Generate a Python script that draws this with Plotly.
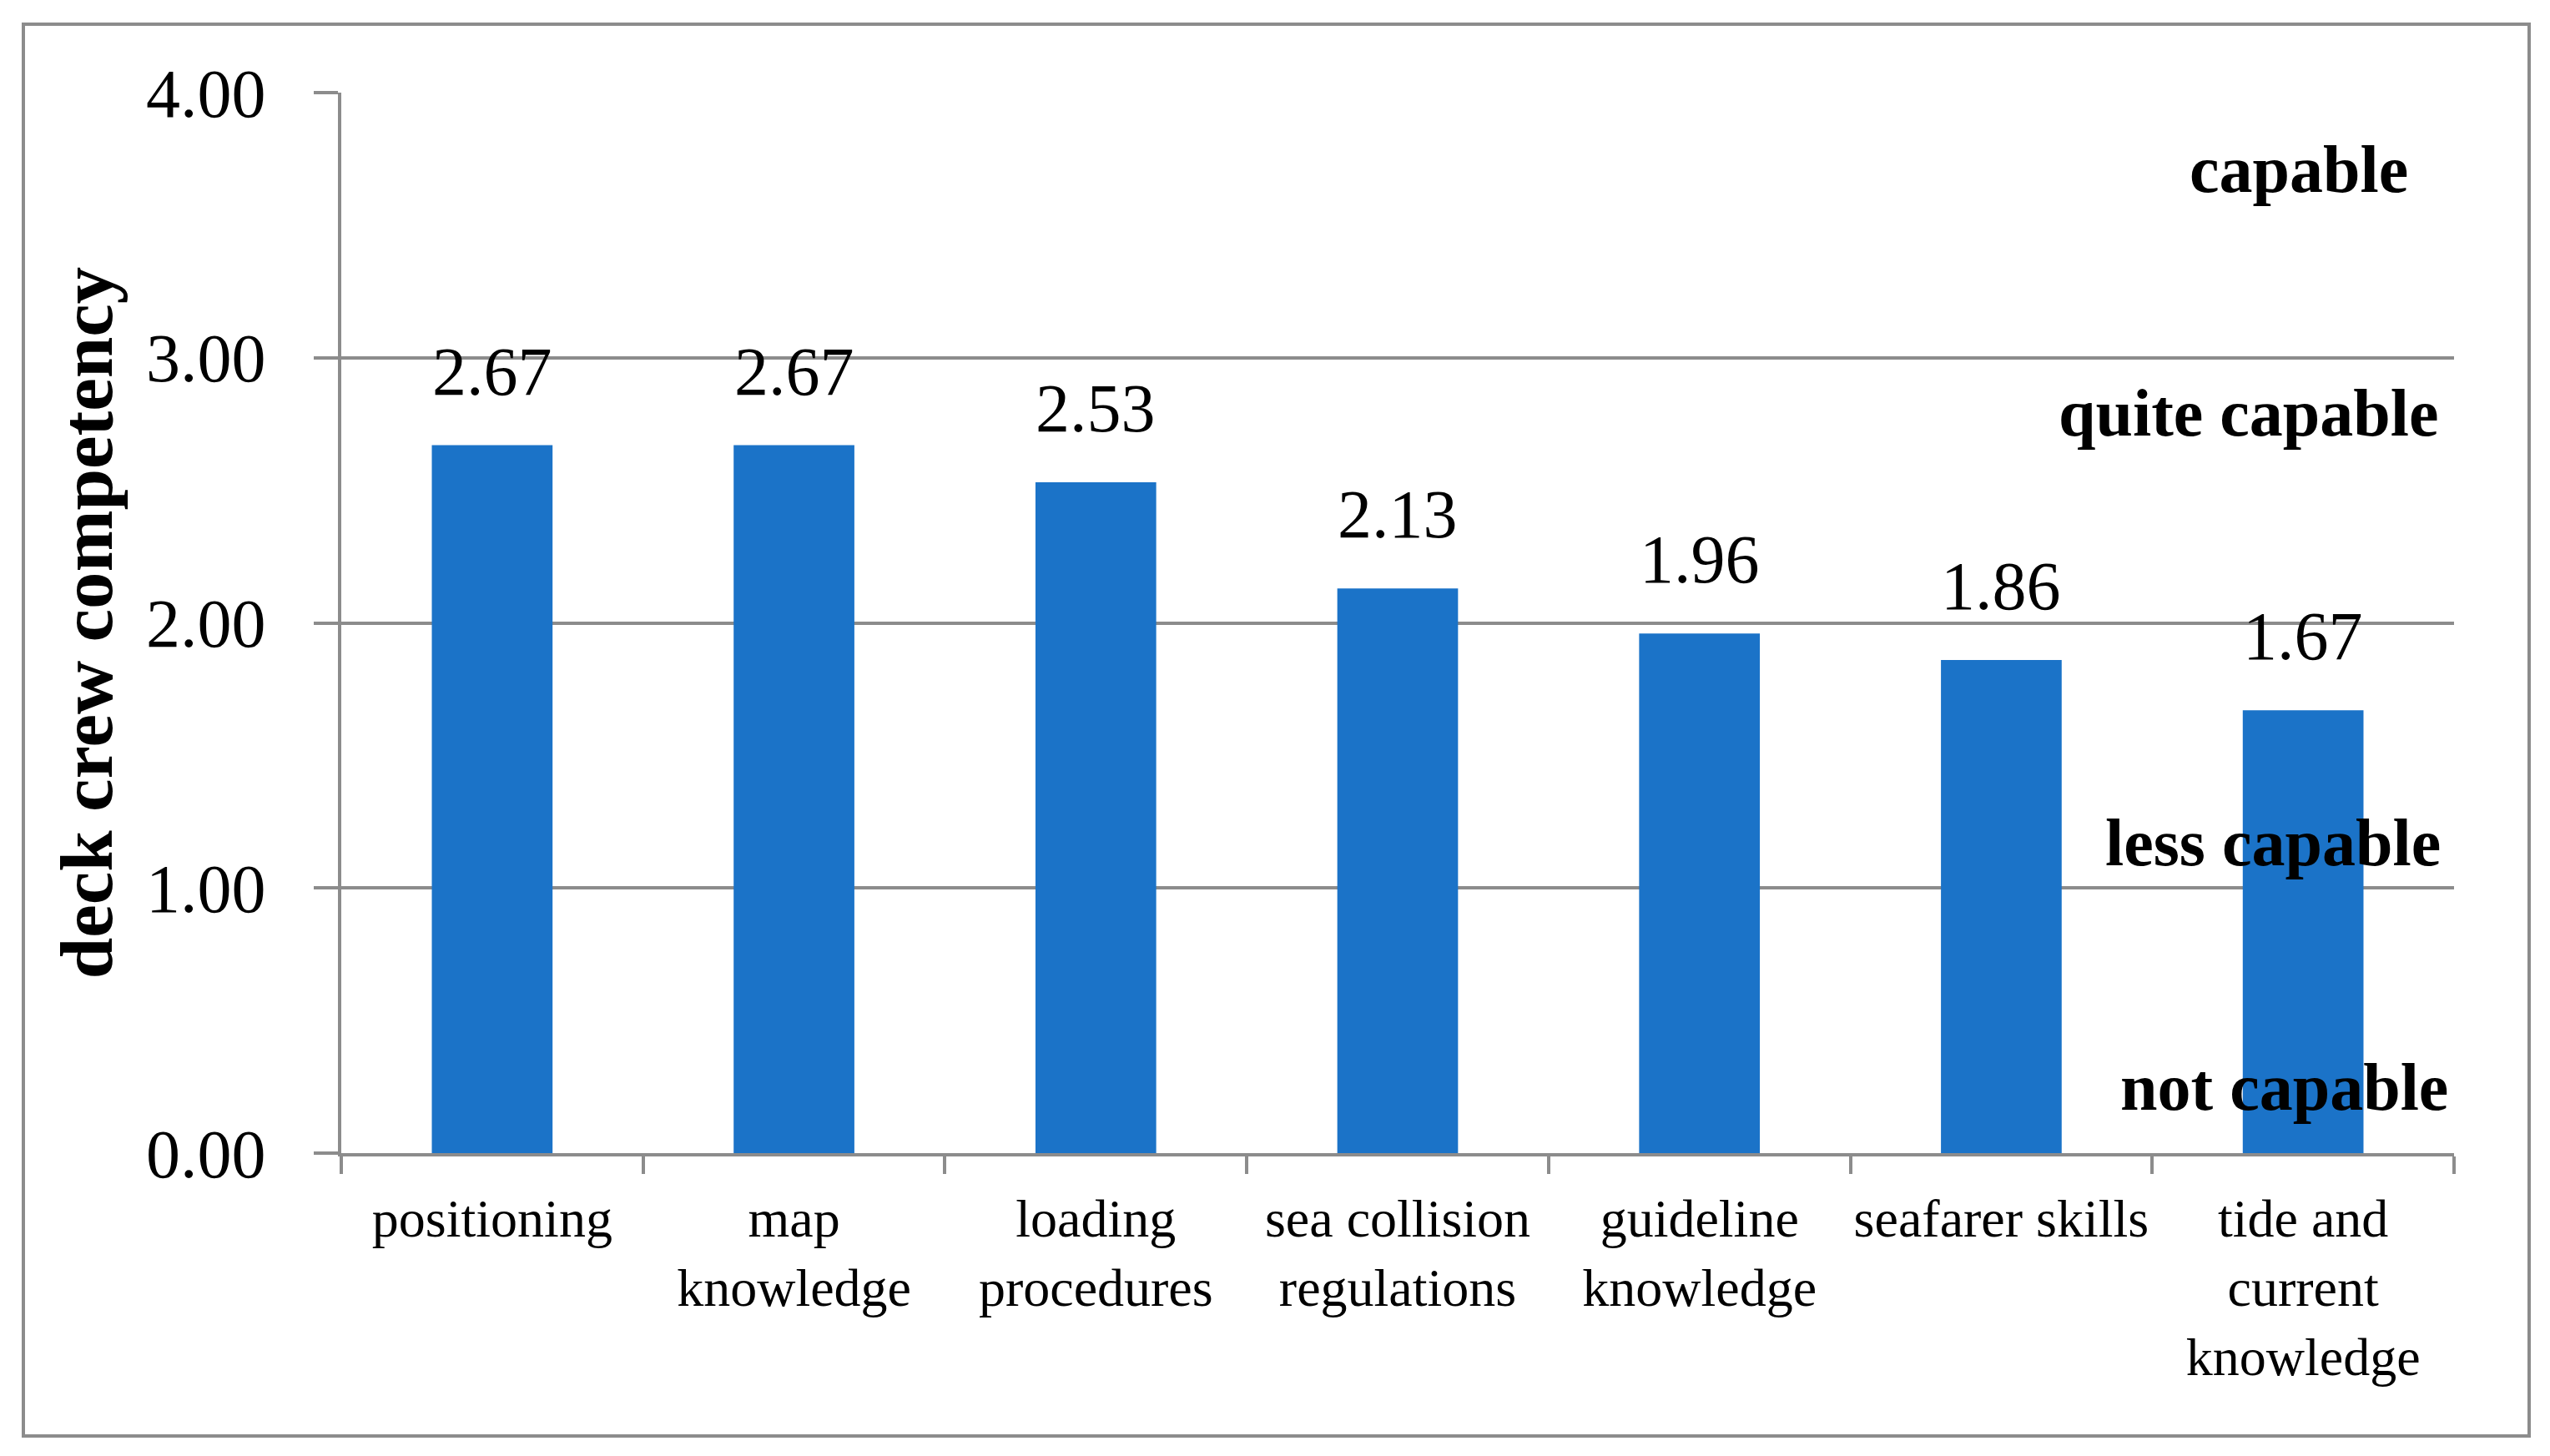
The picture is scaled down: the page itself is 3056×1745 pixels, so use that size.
import plotly.graph_objects as go

categories = ["positioning", "map<br>knowledge", "loading<br>procedures",
              "sea collision<br>regulations", "guideline<br>knowledge",
              "seafarer skills", "tide and<br>current<br>knowledge"]
values = [2.67, 2.67, 2.53, 2.13, 1.96, 1.86, 1.67]
y_ticks = [0, 1, 2, 3, 4]
level_labels = ["capable", "quite capable", "less capable", "not capable"]
level_y = [3.71, 2.79, 1.17, 0.25]
level_x = [0.979, 0.9935, 0.9945, 0.998]

W, H = 3056, 1745
L, R, T, B = 401, 123, 103, 371
GRAY = "#8c8c8c"
BLUE = "#1b73c8"
FONT = "Liberation Serif"

fig = go.Figure()
fig.add_trace(go.Bar(x=categories, y=values, marker=dict(color=BLUE, line=dict(width=0)),
                     hoverinfo="skip"))

for c, v in zip(categories, values):
    fig.add_annotation(x=c, y=v, text=f"{v:.2f}", showarrow=False, xanchor="center",
                       yanchor="bottom", yshift=41,
                       font=dict(family=FONT, size=82, color="black"))

for txt, yv, xv in zip(level_labels, level_y, level_x):
    fig.add_annotation(xref="paper", x=xv, y=yv, text=f"<b>{txt}</b>", showarrow=False,
                       xanchor="right", yanchor="middle",
                       font=dict(family=FONT, size=80, color="black"))

pw = W - L - R
ph = H - T - B
bx0, bx1, by0, by1 = 20, 3023, 21, 1713
fig.add_shape(type="rect", xref="paper", yref="paper",
              x0=(bx0 - L) / pw, x1=(bx1 - L) / pw,
              y0=(H - B - by1) / ph, y1=(H - B - by0) / ph,
              line=dict(color=GRAY, width=4), fillcolor="rgba(0,0,0,0)", layer="below")

fig.update_layout(
    width=W, height=H,
    margin=dict(l=L, r=R, t=T, b=B),
    paper_bgcolor="white", plot_bgcolor="white",
    bargap=0.6, showlegend=False,
    font=dict(family=FONT, color="black"),
    xaxis=dict(type="category", showline=True, linecolor=GRAY, linewidth=4,
               ticks="outside", tickson="boundaries", ticklen=21, tickwidth=4,
               tickcolor=GRAY, showgrid=False, tickangle=0,
               tickfont=dict(family=FONT, size=64, color="black"),
               ticklabelstandoff=19, automargin=False),
    yaxis=dict(range=[0, 4], tickvals=y_ticks, tickformat=".2f",
               showline=True, linecolor=GRAY, linewidth=4,
               ticks="outside", ticklen=29, tickwidth=4, tickcolor=GRAY,
               showgrid=True, gridcolor=GRAY, gridwidth=4, zeroline=False,
               tickfont=dict(family=FONT, size=82, color="black"),
               ticklabelstandoff=41, automargin=False,
               title=dict(text="<b>deck crew competency</b>", standoff=12,
                          font=dict(family=FONT, size=89, color="black"))),
)

fig.write_html("out.html")
